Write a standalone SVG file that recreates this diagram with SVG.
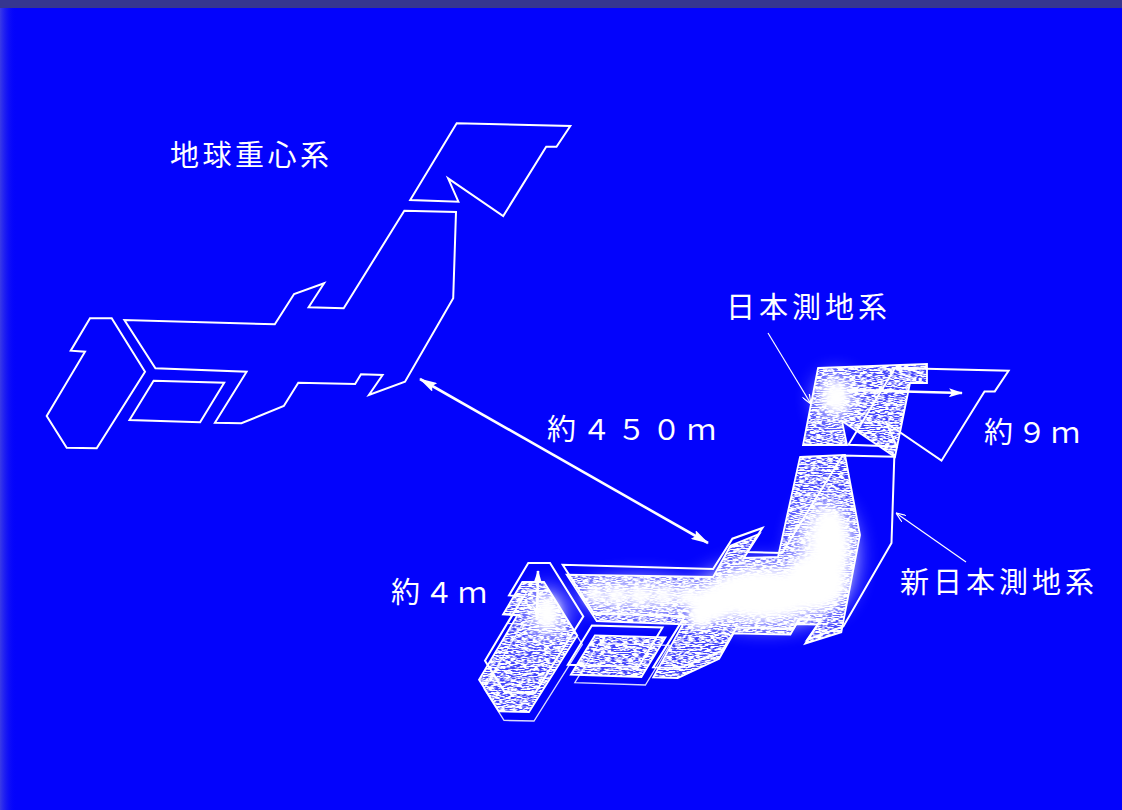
<svg xmlns="http://www.w3.org/2000/svg" width="1122" height="810" viewBox="0 0 1122 810">
<style>
  .ln{fill:none;stroke:#fff;stroke-width:2;stroke-linejoin:miter}
  .old{fill:none;stroke:#fff;stroke-width:1.8;stroke-linejoin:miter}
  .edge{fill:none;stroke:#fff;stroke-width:1.3;opacity:.85}
  .shade{fill:#fff;stroke:none}
  .lbl{fill:#fff;font-family:"Noto Sans CJK JP","Noto Sans CJK SC",sans-serif;font-size:29px}
  .arw{fill:none;stroke:#fff;stroke-width:2.6}
  .lead{fill:none;stroke:#fff;stroke-width:1.2}
  .glow{fill:#fff}
</style>
<defs>
  <!-- grainy, horizontally streaked texture for the shaded islands -->
  <filter id="grain" x="0" y="0" width="100%" height="100%" filterUnits="objectBoundingBox">
    <feTurbulence type="fractalNoise" baseFrequency="0.18 0.95" numOctaves="2" seed="4" result="n"/>
    <feColorMatrix in="n" type="matrix" values="0 0 0 0 1  0 0 0 0 1  0 0 0 0 1  5 0 0 0 -1.85" result="a"/>
    <feComposite in="SourceGraphic" in2="a" operator="in"/>
  </filter>
  <filter id="soft" x="-60%" y="-60%" width="220%" height="220%">
    <feGaussianBlur stdDeviation="11"/>
  </filter>
  <filter id="softCore" x="-60%" y="-60%" width="220%" height="220%">
    <feGaussianBlur stdDeviation="4.5"/>
  </filter>
  <linearGradient id="edgeGrad" x1="0" y1="0" x2="1" y2="0">
    <stop offset="0" stop-color="#3a3ae6"/>
    <stop offset="1" stop-color="#0303fc" stop-opacity="0"/>
  </linearGradient>
  <marker id="head" viewBox="0 0 18 10" refX="17" refY="5" markerWidth="18" markerHeight="10" markerUnits="userSpaceOnUse" orient="auto-start-reverse">
    <path d="M0,0 L18,5 L0,10 L3,5 Z" fill="#fff"/>
  </marker>
  <marker id="headS" viewBox="0 0 14 9" refX="13" refY="4.5" markerWidth="14" markerHeight="9" markerUnits="userSpaceOnUse" orient="auto-start-reverse">
    <path d="M0,0 L14,4.5 L0,9 L3,4.5 Z" fill="#fff"/>
  </marker>
  <marker id="vee" viewBox="0 0 10 8" refX="10" refY="4" markerWidth="10" markerHeight="8" markerUnits="userSpaceOnUse" orient="auto">
    <path d="M0,0 L10,4 L0,8" fill="none" stroke="#fff" stroke-width="1.2"/>
  </marker>
  <!-- stylised outline of the four main islands -->
  <g id="islands">
    <polygon points="456.7,123.3 570.3,126 556.5,146.7 546.2,146.7 503.2,216 448.1,178.3 458.4,201.7 410.2,200"/>
    <polygon points="404.3,210.7 456,212 453.2,298.3 405,381.7 368.9,395 382.6,375 361,374.3 355.1,384 298.3,382.7 283.8,406 241.4,423.3 214.9,422.7 246.6,371.7 155.4,368.3 124.4,320 274.8,324.3 294.1,294 324.1,283.3 308.6,307.3 343.7,308.3"/>
    <polygon points="153.6,380.7 224.2,382.7 200.1,422.3 129.5,420"/>
    <polygon points="90,318.3 111.7,318.3 145,371.7 96.7,448.3 66.7,447.7 46.7,416 85,351.7 70.7,350.7"/>
  </g>
  <g id="oldIslands">
    <polygon points="818,368 927,364 927,383 910,383 895,457 842,421 847,445 803,445"/>
    <polygon points="800,457 845,455 860,535 841.3,632.4 805.2,643.7 817.9,624.7 796.3,624 790.4,634.7 733.6,633.4 719.1,658.7 677.7,678 653.2,677.4 682.9,624.4 596.7,621 566.7,574.7 713.1,577 730.4,545.7 759.4,534 743.9,558 778,557"/>
    <polygon points="594.9,635.4 665.5,637.4 641.4,677 570.8,674.7"/>
    <polygon points="522.3,582 544,582 577.3,635.4 529,712 499,711.4 479,679.7 517.3,615.4 503,614.4"/>
  </g>
</defs>

<!-- page -->
<rect width="1122" height="810" fill="#0303fc"/>
<rect width="16" height="810" fill="url(#edgeGrad)"/>
<rect width="1122" height="8" fill="#363690"/>

<!-- geocentric frame outline -->
<g id="geocentric">
  <use href="#islands" class="ln"/>
</g>

<!-- Tokyo datum: shaded islands -->
<g id="tokyo-datum">
  <use href="#oldIslands" fill="#fff" opacity="0.25"/>
  <g filter="url(#grain)">
    <use href="#oldIslands" class="shade"/>
  </g>
  <g filter="url(#soft)" class="glow" opacity="0.9">
    <ellipse cx="836" cy="398" rx="18" ry="22"/>
    <ellipse cx="547" cy="614" rx="17" ry="24"/>
    <ellipse cx="640" cy="596" rx="58" ry="15"/>
    <ellipse cx="765" cy="595" rx="70" ry="30"/>
    <ellipse cx="825" cy="555" rx="30" ry="55"/>
  </g>
  <g filter="url(#softCore)" class="glow">
    <ellipse cx="836" cy="397" rx="12" ry="15"/>
    <ellipse cx="547" cy="613" rx="11" ry="16"/>
    <circle cx="594" cy="594" r="9"/>
    <circle cx="616" cy="595" r="9"/>
    <circle cx="640" cy="595" r="9"/>
    <circle cx="664" cy="596" r="9"/>
    <circle cx="688" cy="597" r="10"/>
    <ellipse cx="714" cy="604" rx="20" ry="18"/>
    <ellipse cx="700" cy="617" rx="13" ry="13"/>
    <ellipse cx="762" cy="594" rx="50" ry="23"/>
    <ellipse cx="815" cy="582" rx="30" ry="27"/>
    <ellipse cx="830" cy="545" rx="18" ry="36"/>
  </g>
  <use href="#oldIslands" class="old"/>
  <g class="edge">
    <polygon points="594.9,635.4 665.5,637.4 641.4,677 570.8,674.7" transform="translate(4,8)"/>
    <polygon points="522.3,582 544,582 577.3,635.4 529,712 499,711.4 479,679.7 517.3,615.4 503,614.4" transform="translate(5,9)"/>
  </g>
</g>

<!-- new datum outline -->
<g id="new-datum">
  <use href="#islands" class="ln" transform="translate(438.3,244.7)"/>
</g>

<!-- arrows and leaders -->
<g id="connectors">
  <line class="arw" x1="420" y1="379" x2="708" y2="543" marker-start="url(#head)" marker-end="url(#head)"/>
  <line class="arw" x1="847" y1="390" x2="962" y2="393" stroke-width="2.4" marker-start="url(#headS)" marker-end="url(#headS)"/>
  <line class="arw" x1="538" y1="571" x2="537" y2="619" stroke-width="2.4" marker-start="url(#headS)" marker-end="url(#headS)"/>
  <line class="lead" x1="768" y1="333" x2="811" y2="404" marker-end="url(#vee)"/>
  <line class="lead" x1="966" y1="562" x2="896" y2="513" marker-end="url(#vee)"/>
</g>

<!-- labels -->
<g id="labels">
  <text class="lbl" x="170" y="166" font-size="30" letter-spacing="3.5">地球重心系</text>
  <text class="lbl" x="547" y="440" font-size="28" letter-spacing="6">約４５０ｍ</text>
  <text class="lbl" x="984" y="443" font-size="28" letter-spacing="4.5">約９ｍ</text>
  <text class="lbl" x="391" y="603" font-size="28" letter-spacing="4.5">約４ｍ</text>
  <text class="lbl" x="726" y="318" letter-spacing="4">日本測地系</text>
  <text class="lbl" x="900" y="593" letter-spacing="4">新日本測地系</text>
</g>
</svg>
